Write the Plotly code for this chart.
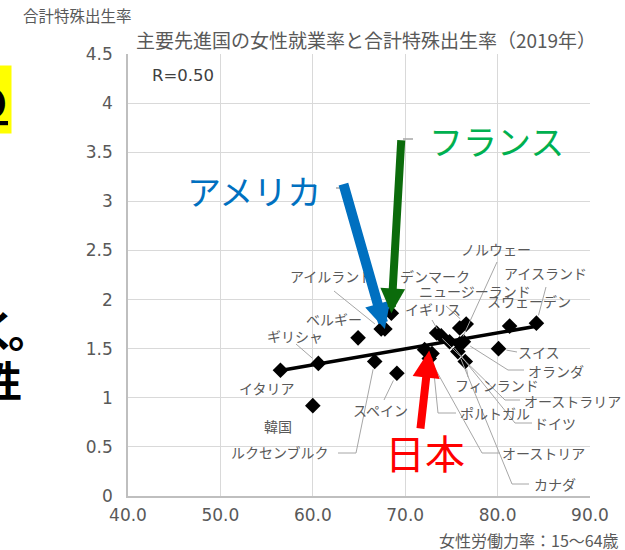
import numpy as np
import plotly.graph_objects as go

# ---------------- data ----------------
countries = ["イタリア", "韓国", "ギリシャ", "ベルギー", "ルクセンブルク", "アイルランド",
             "アメリカ", "フランス", "スペイン", "オーストリア", "日本", "ポルトガル",
             "イギリス", "オーストラリア", "ドイツ", "オランダ", "カナダ", "フィンランド",
             "デンマーク", "ニュージーランド", "ノルウェー", "スイス", "スウェーデン", "アイスランド"]
female_lfpr = [56.5, 60.0, 60.6, 64.9, 66.7, 67.4,
               67.8, 68.5, 69.1, 72.1, 72.6, 72.9,
               73.9, 73.4, 74.8, 76.3, 75.7, 76.5,
               75.9, 76.6, 75.9, 80.1, 81.3, 84.2]
tfr = [1.28, 0.92, 1.35, 1.61, 1.37, 1.70,
       1.70, 1.86, 1.25, 1.49, 1.40, 1.45,
       1.63, 1.66, 1.57, 1.57, 1.47, 1.37,
       1.71, 1.75, 1.55, 1.50, 1.73, 1.76]
x_ticks = [40, 50, 60, 70, 80, 90]
y_ticks = [0, 0.5, 1, 1.5, 2, 2.5, 3, 3.5, 4, 4.5]
r_text = "R=0.50"
title_text = "主要先進国の女性就業率と合計特殊出生率（2019年）"
y_title = "合計特殊出生率"
x_title = "女性労働力率：15～64歳"

# ---------------- geometry ----------------
W, H = 625, 550
ML, MR, MT, MB = 128, 35, 54, 54
PW, PH = W - ML - MR, H - MT - MB
X0, X1, Y0, Y1 = 40, 90, 0, 4.5


def px2x(px):
    return X0 + (px - ML) / PW * (X1 - X0)


def py2y(py):
    return Y1 - (py - MT) / PH * (Y1 - Y0)


def x2px(x):
    return ML + (x - X0) / (X1 - X0) * PW


def y2py(y):
    return MT + (Y1 - y) / (Y1 - Y0) * PH


def pxp(px):
    return (px - ML) / PW


def pyp(py):
    return 1 - (py - MT) / PH


GRAY = "#595959"
FONT = "Noto Sans CJK JP"
NUMFONT = "DejaVu Sans"

# label placement (label centre in px, leader points in px)
label_pos = {
    "イタリア": ((266, 388), None),
    "韓国": ((278, 426), None),
    "ギリシャ": ((295, 336), [(296, 344)]),
    "ベルギー": ((334, 319), None),
    "ルクセンブルク": ((280, 452), [(338, 453), (356, 453)]),
    "アイルランド": ((331, 276), [(334, 291)]),
    "スペイン": ((380, 410), [(384, 400)]),
    "オーストリア": ((543, 453), [(500, 453), (482, 453)]),
    "ポルトガル": ((495, 413), [(456, 413), (438, 413)]),
    "イギリス": ((433, 309), [(432, 320)]),
    "オーストラリア": ((572, 401), [(520, 400), (505, 400)]),
    "ドイツ": ((555, 423), [(532, 423), (515, 423)]),
    "オランダ": ((556, 371), [(524, 370), (508, 370)]),
    "カナダ": ((555, 484), [(529, 484), (512, 484)]),
    "フィンランド": ((497, 385), [(468, 377)]),
    "デンマーク": ((435, 276), None),
    "ニュージーランド": ((475, 291), [(446, 306)]),
    "ノルウェー": ((496, 249), [(497, 262)]),
    "スイス": ((539, 352), [(517, 352)]),
    "スウェーデン": ((529, 301), None),
    "アイスランド": ((545, 273), [(546, 287)]),
}

fig = go.Figure()

fig.add_trace(go.Scatter(
    x=female_lfpr, y=tfr, mode="markers",
    marker=dict(symbol="diamond", size=12, color="black"),
    hoverinfo="skip", showlegend=False))

k, b = np.polyfit(female_lfpr, tfr, 1)
xs = np.array([min(female_lfpr), max(female_lfpr)])
fig.add_trace(go.Scatter(x=xs, y=k * xs + b, mode="lines",
                         line=dict(color="black", width=3.5),
                         hoverinfo="skip", showlegend=False))

annotations = []
shapes = []
for name, xv, yv in zip(countries, female_lfpr, tfr):
    if name not in label_pos:
        continue
    (cx, cy), leader = label_pos[name]
    annotations.append(dict(xref="paper", yref="paper", x=pxp(cx), y=pyp(cy),
                            text=name, showarrow=False, xanchor="center", yanchor="middle",
                            font=dict(size=14, color=GRAY, family=FONT)))
    if leader:
        p = np.array([x2px(xv), y2py(yv)])
        q = np.array(leader[-1], dtype=float)
        u = (q - p) / np.linalg.norm(q - p)
        end = p + u * 8
        pts = list(leader) + [tuple(end)]
        path = "M " + " L ".join(f"{px2x(a):.4f},{py2y(c):.4f}" for a, c in pts)
        shapes.append(dict(type="path", path=path, xref="x", yref="y",
                           line=dict(color="#A6A6A6", width=1)))

# big highlight arrows: (country, colour, width, head size, tail dx, tail dy, tip lift)
idx = {n: i for i, n in enumerate(countries)}
arrow_spec = [
    ("アメリカ", "#0070C0", 10, 0.52, -42, -147, 0),
    ("フランス", "#0B6B0B", 8, 0.62, 10, -175, 0),
    ("日本", "#FF0000", 8, 0.68, -9, 80, 8),
]
for name, col, w, sz, ax, ay, lift in arrow_spec:
    i = idx[name]
    annotations.append(dict(x=female_lfpr[i], y=tfr[i], xref="x", yref="y", text=" ",
                            showarrow=True, arrowhead=2, arrowsize=sz, arrowwidth=w,
                            arrowcolor=col, ax=ax, ay=ay, standoff=0, yshift=lift,
                            font=dict(size=1)))


def txt(px, py, text, size, color, xanchor="center", family=FONT, fontkw=None, **kw):
    return dict(xref="paper", yref="paper", x=pxp(px), y=pyp(py), text=text, showarrow=False,
                xanchor=xanchor, yanchor="middle",
                font=dict(size=size, color=color, family=family, **(fontkw or {})), **kw)


annotations += [
    txt(254, 190, "アメリカ", 34, "#0070C0"),
    txt(496, 140, "フランス", 34, "#00B050"),
    txt(425, 452, "日本", 40, "#FF0000"),
    txt(150, 75, r_text, 16.5, "#404040", xanchor="left", family=NUMFONT),
    txt(21, 15, y_title, 15.5, GRAY, xanchor="left"),
    txt(621, 540, x_title, 16, GRAY, xanchor="right"),
    # fragments of surrounding slide text
    txt(12, 100, "<b>の</b>", 42, "black", xanchor="right", bgcolor="#FFFF00", borderpad=3,
        fontkw=dict(lineposition="under")),
    txt(21, 328, "<b>く</b>", 42, "black", xanchor="right"),
    txt(52, 328, "<b>。</b>", 42, "black", xanchor="right"),
    txt(24, 378, "<b>性</b>", 42, "black", xanchor="right"),
]

# short gray leader ticks beside the highlight labels
shapes += [
    dict(type="line", xref="paper", yref="paper", x0=pxp(336), x1=pxp(346), y0=pyp(188), y1=pyp(188),
         line=dict(color="#A6A6A6", width=1.5)),
    dict(type="line", xref="paper", yref="paper", x0=pxp(403), x1=pxp(413), y0=pyp(139), y1=pyp(139),
         line=dict(color="#A6A6A6", width=1.5)),
]

fig.update_layout(
    width=W, height=H,
    margin=dict(l=ML, r=MR, t=MT, b=MB, autoexpand=False),
    paper_bgcolor="white", plot_bgcolor="white",
    font=dict(family=FONT, color=GRAY),
    title=dict(text=title_text, xref="container", x=366 / W, xanchor="center",
               yref="container", y=1 - 41 / H, yanchor="middle",
               font=dict(size=19, color=GRAY, family=FONT)),
    xaxis=dict(range=[X0, X1], tickvals=x_ticks, ticktext=[f"{v:.1f}" for v in x_ticks],
               showgrid=True, gridcolor="#D9D9D9", gridwidth=1, zeroline=False,
               showline=True, linecolor="#BFBFBF", linewidth=1.5,
               tickfont=dict(size=17, color=GRAY, family=NUMFONT), ticks="", ticklabelstandoff=3),
    yaxis=dict(range=[Y0, Y1], tickvals=y_ticks, ticktext=[f"{v:g}" for v in y_ticks],
               showgrid=True, gridcolor="#D9D9D9", gridwidth=1, zeroline=False,
               showline=True, linecolor="#BFBFBF", linewidth=1.5,
               tickfont=dict(size=17, color=GRAY, family=NUMFONT), ticks="", ticklabelstandoff=10),
    annotations=annotations, shapes=shapes, showlegend=False,
)

fig.write_html("out.html", config={"displayModeBar": False},
               post_script="document.body.style.margin='0px';")
